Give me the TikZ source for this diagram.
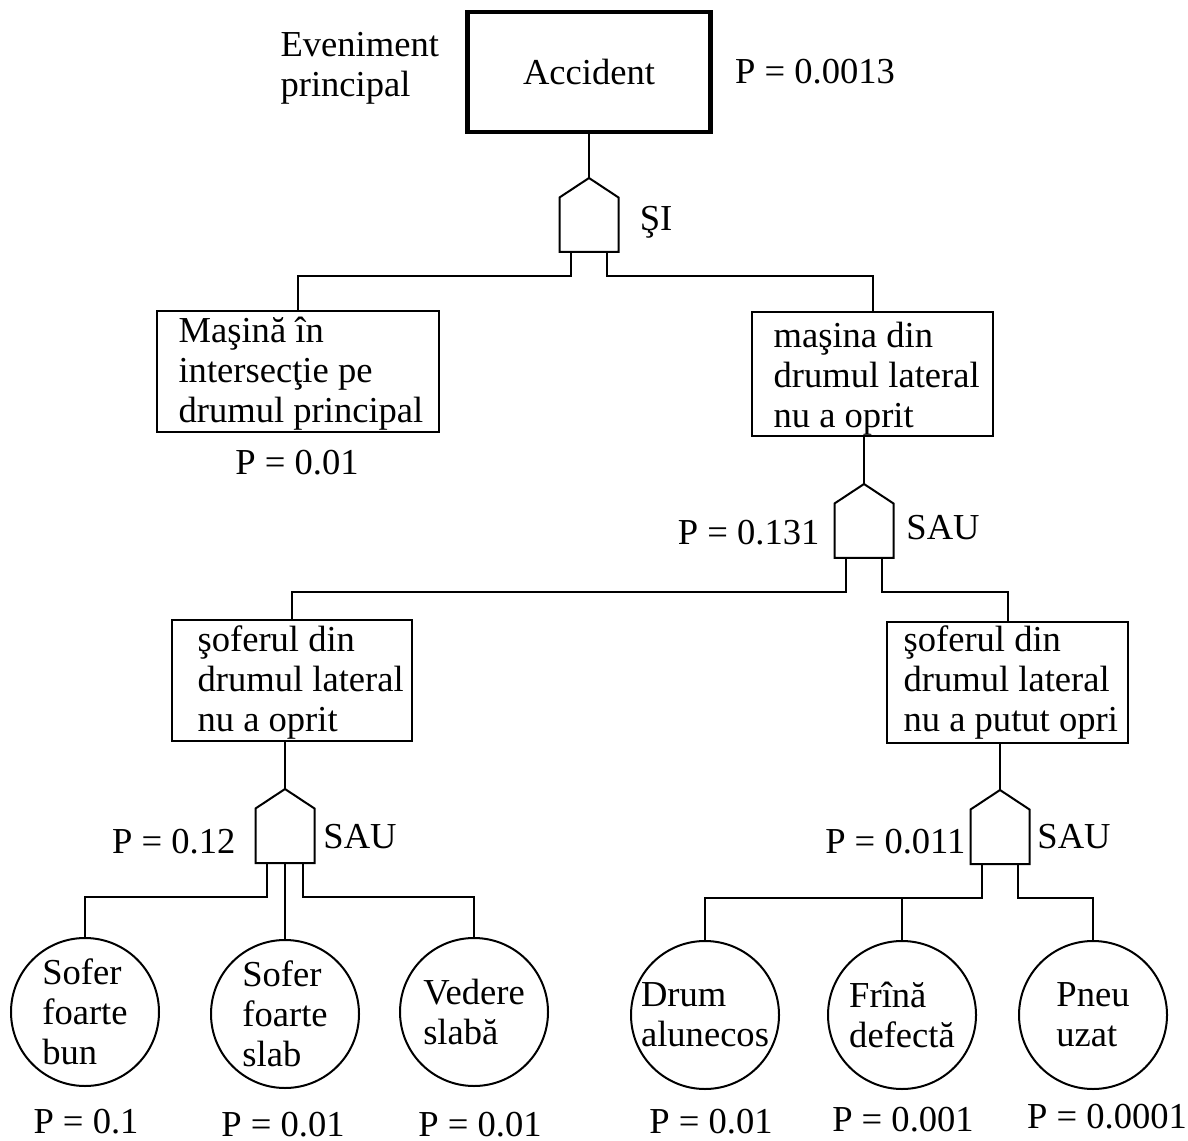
\documentclass[tikz,border=0pt]{standalone}
\usepackage{fontspec}
\setmainfont{Liberation Serif}
\usetikzlibrary{calc}
\newdimen\upx
\upx=0.35pt

\tikzset{
  wire/.style={line width=0.7pt},
  evbox/.style={draw, line width=0.7pt, inner sep=0pt},
  topbox/.style={draw, line width=1.5pt, inner sep=0pt,
    minimum width=243\upx, minimum height=120\upx},
  basic/.style={draw, circle, line width=0.7pt, inner sep=0pt,
    minimum size=148\upx, align=left},
  boxtext/.style={anchor=base west, align=left, inner sep=0pt},
  plabel/.style={inner sep=0pt},
  gate/.pic={
    \draw[wire] (0,0) -- (29.5,19.5) -- (29.5,74) -- (-29.5,74)
      -- (-29.5,19.5) -- cycle;
    \coordinate (-tip) at (0,0);
    \coordinate (-l) at (-18,74);
    \coordinate (-m) at (0,74);
    \coordinate (-r) at (18,74);
    \coordinate (-bus) at (0,108);
  }
}

\begin{document}
\begin{tikzpicture}[x=0.35pt, y=-0.35pt, font=\fontsize{12.8}{14}\selectfont]
  \useasboundingbox (0,0) rectangle (1188,1141);

  % ============== TOP: main event ==============
  \node[topbox] (acc) at (589,72) {Accident};
  \node[plabel, anchor=west, align=left] (evp) at (280,68) {Eveniment\\principal};
  \node[plabel] (pacc) at (815,72) {P = 0.0013};

  \pic (g1) at (589,178) {gate};
  \node[plabel] (si) at (656,222) {ŞI};
  \draw[wire] (acc.south) -- (g1-tip);

  % ============== LEVEL 2 ==============
  \node[evbox, minimum width=282\upx, minimum height=121\upx] (masina) at (298,371.5) {};
  \node[boxtext] (masinaT) at (178,423) {Maşină în\\intersecţie pe\\drumul principal};
  \node[plabel] (pmasina) at (297,463) {P = 0.01};

  \node[evbox, minimum width=241\upx, minimum height=124\upx] (oprit) at (872.5,374) {};
  \node[boxtext] (opritT) at (773,428) {maşina din\\drumul lateral\\nu a oprit};

  \draw[wire] (g1-l) -- (g1-l |- 0,276) -| (masina.north);
  \draw[wire] (g1-r) -- (g1-r |- 0,276) -| (oprit.north);

  % OR gate under the side road car
  \pic (g2) at (864,484) {gate};
  \node[plabel] (sau2) at (943,528) {SAU};
  \node[plabel, anchor=east] (popr) at (820,533) {P = 0.131};
  \draw[wire] (g2-tip) -- (g2-tip |- oprit.south);

  % ============== LEVEL 3 ==============
  \node[evbox, minimum width=240\upx, minimum height=121\upx] (sofer) at (292,680.5) {};
  \node[boxtext] (soferT) at (197,731) {şoferul din\\drumul lateral\\nu a oprit};

  \node[evbox, minimum width=241\upx, minimum height=120\upx] (sofput) at (1007.5,682.5) {};
  \node[boxtext] (sofputT) at (903,731) {şoferul din\\drumul lateral\\nu a putut opri};

  \draw[wire] (g2-l) -- (g2-l |- g2-bus) -| (sofer.north);
  \draw[wire] (g2-r) -- (g2-r |- g2-bus) -| (sofput.north);

  % left OR gate
  \pic (g3) at (285,789) {gate};
  \node[plabel] (sau3) at (360,837) {SAU};
  \node[plabel, anchor=east] (psofer) at (236,842) {P = 0.12};
  \draw[wire] (g3-tip) -- (g3-tip |- sofer.south);

  % right OR gate
  \pic (g4) at (1000,790) {gate};
  \node[plabel] (sau4) at (1074,837) {SAU};
  \node[plabel, anchor=east] (psofput) at (966,842) {P = 0.011};
  \draw[wire] (g4-tip) -- (g4-tip |- sofput.south);

  % ============== BASIC EVENTS ==============
  \node[basic] (bun) at (85,1012) {Sofer\\foarte\\bun};
  \node[basic] (slab) at (285,1014) {Sofer\\foarte\\slab};
  \node[basic] (vedere) at (474,1012) {Vedere\\slabă};
  \node[basic] (drum) at (705,1015) {Drum\\alunecos};
  \node[basic] (frina) at (902,1015) {Frînă\\defectă};
  \node[basic] (pneu) at (1093,1015) {Pneu\\uzat};

  \draw[wire] (g3-l) -- (g3-l |- g3-bus) -| (bun.north);
  \draw[wire] (g3-m) -- (slab.north);
  \draw[wire] (g3-r) -- (g3-r |- g3-bus) -| (vedere.north);

  \draw[wire] (g4-l) -- (g4-l |- g4-bus) -| (drum.north);
  \draw[wire] (frina.north) -- (frina.north |- g4-bus);
  \draw[wire] (g4-r) -- (g4-r |- g4-bus) -| (pneu.north);

  % probabilities
  \node[plabel] (pbun) at (86,1122) {P = 0.1};
  \node[plabel] (pslab) at (283,1125) {P = 0.01};
  \node[plabel] (pvedere) at (480,1125) {P = 0.01};
  \node[plabel] (pdrum) at (711,1122) {P = 0.01};
  \node[plabel] (pfrina) at (903,1120) {P = 0.001};
  \node[plabel] (ppneu) at (1107,1117) {P = 0.0001};

\end{tikzpicture}
\end{document}
